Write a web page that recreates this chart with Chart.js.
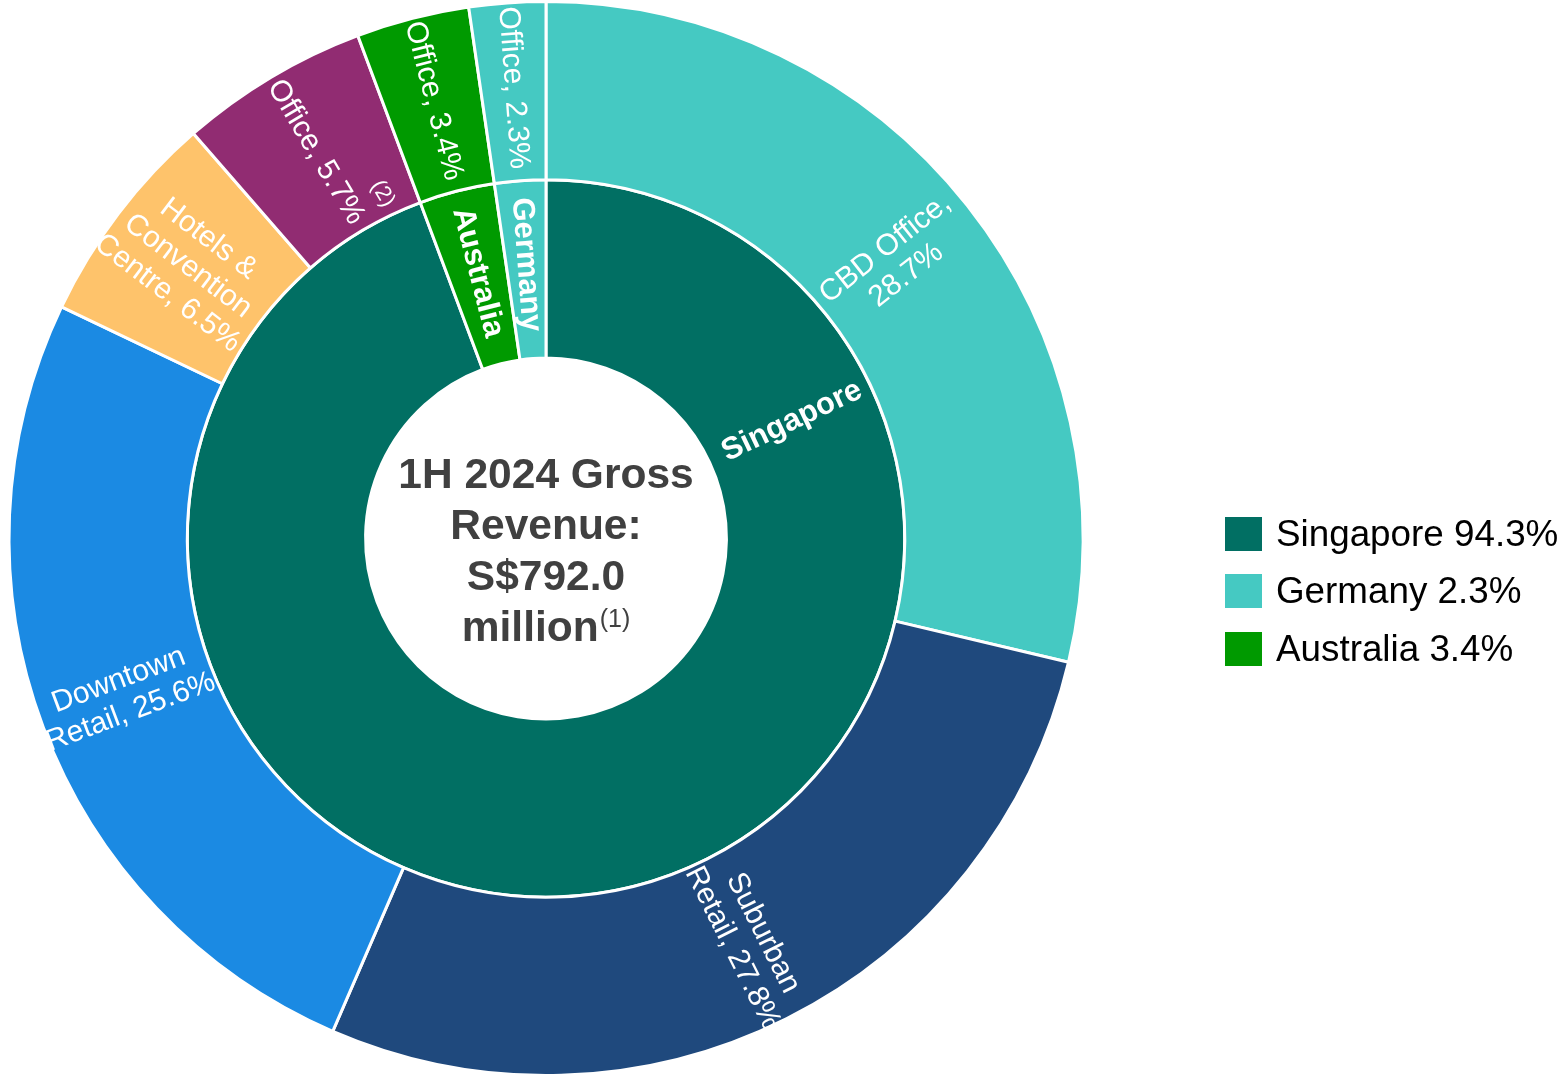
<!DOCTYPE html>
<html>
<head>
<meta charset="utf-8">
<script src="https://cdn.jsdelivr.net/npm/chart.js@4.4.1/dist/chart.umd.min.js"></script>
<style>
  html, body { margin: 0; padding: 0; background: #fff; overflow: hidden; }
  #wrap { position: relative; width: 1562px; height: 1077px; }
  #legend {
    position: absolute; left: 1225px; top: 505px;
    font-family: "Liberation Sans", Arial, sans-serif; font-size: 36.8px; color: #000;
  }
  .item { display: flex; align-items: center; height: 57.5px; white-space: nowrap; }
  .box { width: 37px; height: 34px; margin-right: 14px; flex: none; }
</style>
</head>
<body>
<div id="wrap">
  <canvas id="donut" width="1562" height="1077"></canvas>
  <div id="legend"></div>
</div>
<script>
/* ── data ── */
const innerLabels = ['Singapore', 'Australia', 'Germany'];
const innerValues = [94.3, 3.4, 2.3];
const innerColors = ['#016f63', '#009a00', '#45c9c2'];

const outerLabels = ['CBD Office', 'Suburban Retail', 'Downtown Retail', 'Hotels & Convention Centre', 'Office', 'Office', 'Office'];
const outerValues = [28.7, 27.8, 25.6, 6.5, 5.7, 3.4, 2.3];
const outerColors = ['#45c9c2', '#1f497d', '#1b8ae3', '#fec36b', '#912c72', '#009a00', '#45c9c2'];

const centerLines = ['1H 2024 Gross', 'Revenue:', 'S$792.0', 'million'];
const centerNote = '(1)';
const legendOrder = [0, 2, 1];   // Singapore, Germany, Australia

const FONT = '"Liberation Sans", Arial, sans-serif';

/* ── legend (html) ── */
document.getElementById('legend').innerHTML = legendOrder.map(i => `
  <div class="item"><span class="box" style="background:${innerColors[i]}"></span>${innerLabels[i]} ${innerValues[i]}%</div>
`).join('');

function wrapText(ctx, text, maxW) {
  const words = text.split(' ');
  const lines = [];
  let cur = '';
  words.forEach(w => {
    const test = cur ? cur + ' ' + w : w;
    if (cur && ctx.measureText(test).width > maxW) {
      lines.push(cur);
      cur = w;
    } else {
      cur = test;
    }
  });
  if (cur) lines.push(cur);
  return lines;
}

/* ── slice labels + centre text ── */
const ringLabels = {
  id: 'ringLabels',
  afterDatasetsDraw(chart, args, opts) {
    const ctx = chart.ctx;
    chart.data.datasets.forEach((ds, di) => {
      const meta = chart.getDatasetMeta(di);
      const conf = opts.rings[di];
      meta.data.forEach((arc, i) => {
        const p = arc.getProps(['x', 'y', 'startAngle', 'endAngle', 'innerRadius', 'outerRadius']);
        const frac = conf.at[i] != null ? conf.at[i] : 0.5;
        const a = p.startAngle + (p.endAngle - p.startAngle) * frac;
        const r = (p.innerRadius + p.outerRadius) / 2 + conf.shift + (conf.extra[i] || 0);
        const cx = p.x + Math.cos(a) * r;
        const cy = p.y + Math.sin(a) * r;
        const rot = Math.cos(a) < 0 ? a + Math.PI : a;

        ctx.save();
        ctx.translate(cx, cy);
        ctx.rotate(rot);
        ctx.fillStyle = '#fff';
        ctx.textAlign = 'center';
        ctx.textBaseline = 'middle';
        ctx.font = conf.font;
        const text = conf.withValue ? `${ds.labels[i]}, ${ds.data[i]}%` : ds.labels[i];
        const lines = wrapText(ctx, text, conf.maxWidth);
        lines.forEach((ln, k) => {
          ctx.fillText(ln, 0, (k - (lines.length - 1) / 2) * conf.lineHeight);
        });
        const sup = conf.sup[i];
        if (sup) {
          ctx.font = sup.font;
          ctx.fillText(sup.text, sup.along, -sup.up);
        }
        ctx.restore();
      });
    });

    // centre text
    const c = chart.getDatasetMeta(0).data[0];
    const x0 = c.x, y0 = c.y;
    ctx.save();
    ctx.fillStyle = '#404040';
    ctx.textBaseline = 'alphabetic';
    const offs = [-51, 0, 51, 102];
    ctx.font = 'bold 42.5px ' + FONT;
    ctx.textAlign = 'center';
    centerLines.slice(0, 3).forEach((ln, k) => ctx.fillText(ln, x0, y0 + offs[k]));
    const last = centerLines[3];
    const w1 = ctx.measureText(last).width;
    ctx.font = '25px ' + FONT;
    const w2 = ctx.measureText(centerNote).width;
    const sx = x0 - (w1 + w2 + 1) / 2;
    ctx.textAlign = 'left';
    ctx.font = 'bold 42.5px ' + FONT;
    ctx.fillText(last, sx, y0 + offs[3]);
    ctx.font = '25px ' + FONT;
    ctx.fillText(centerNote, sx + w1 + 1, y0 + offs[3] - 14);
    ctx.restore();
  }
};

new Chart(document.getElementById('donut'), {
  type: 'doughnut',
  data: {
    datasets: [
      {
        labels: outerLabels,
        data: outerValues,
        backgroundColor: outerColors,
        borderColor: '#fff',
        borderWidth: 3
      },
      {
        labels: innerLabels,
        data: innerValues,
        backgroundColor: innerColors,
        borderColor: '#fff',
        borderWidth: 3
      }
    ]
  },
  options: {
    responsive: false,
    animation: false,
    cutout: '33.6%',
    layout: { padding: { left: 0, right: 470, top: 0, bottom: 0 } },
    plugins: {
      legend: { display: false },
      tooltip: { enabled: false },
      ringLabels: {
        rings: [
          {
            font: '30px ' + FONT, lineHeight: 34, maxWidth: 190, withValue: true,
            shift: 2, extra: [-4, 0, 0, 0, 0, 2, 2], at: [],
            sup: { 4: { text: '(2)', font: '22px ' + FONT, along: 70, up: 36 } }
          },
          {
            font: 'bold 31px ' + FONT, lineHeight: 34, maxWidth: 400, withValue: false,
            shift: 5, extra: [-2, 0, 0], at: [0.19], sup: {}
          }
        ]
      }
    }
  },
  plugins: [ringLabels]
});
</script>
</body>
</html>
